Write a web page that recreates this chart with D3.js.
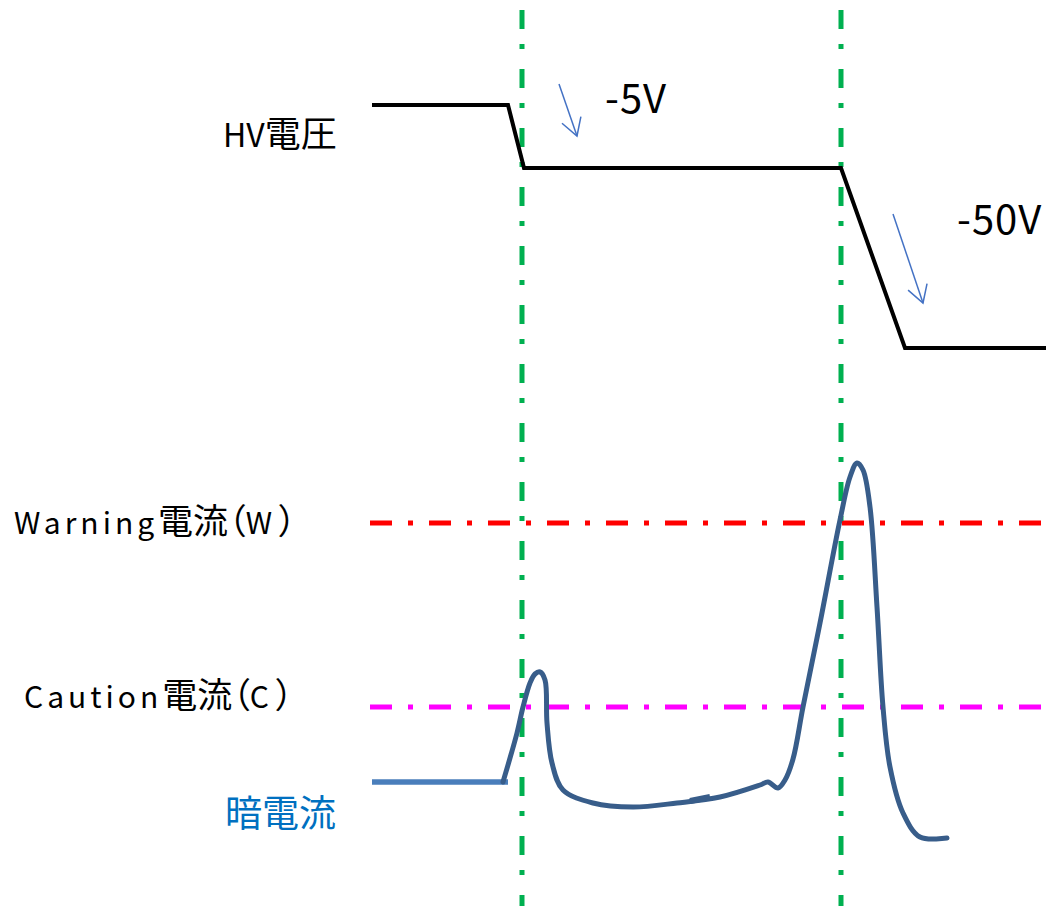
<!DOCTYPE html>
<html>
<head>
<meta charset="utf-8">
<script src="https://cdn.jsdelivr.net/npm/d3@7"></script>
<style>
    body { margin: 0; background: #ffffff; }
    svg { display: block; font-family: "Noto Sans CJK JP", "Noto Sans", sans-serif; }
</style>
</head>
<body>
<div id="chart"></div>
<script>
// HV電圧 (時間 ms, 電圧 V)
const hvTime = [0, 136, 152, 469, 533, 674];
const hvVolt = [0, 0, -5, -5, -50, -50];

// 暗電流 ベースライン
const baseTime = [0, 136];
const baseCurrent = [0, 0];

// 電流波形 (a.u.)
const pulseTime = [131, 145, 151, 158, 163, 168, 173, 175, 180, 191, 221, 261, 305, 348, 388, 396, 406, 413, 421, 431, 448, 468, 478, 485, 491, 498, 505, 511, 518, 531, 548, 575];
const pulseCurrent = [0, 1.96, 3.0, 3.96, 4.32, 4.4, 4.08, 2.36, 0.76, -0.32, -0.84, -1.0, -0.84, -0.6, -0.12, 0, -0.24, 0.08, 0.92, 3.0, 6.36, 10.48, 12.2, 12.76, 12.48, 11.0, 7.0, 3.0, 0.6, -1.24, -2.2, -2.24];

// 手書きの重なり部分
const overlapTime = [318, 338];
const overlapCurrent = [-0.76, -0.6];

// しきい値
const thresholdNames = [["Warning", "電流（", "W ", "）"], ["Caution", "電流（", "C ", "）"]];
const thresholdLevels = [10.36, 3.0];
const thresholdColors = ["#ff0000", "#ff00ff"];

// 電圧切替タイミング
const switchTimes = [150, 469];

// 電圧ステップ表示
const stepLabels = ["-5V", "-50V"];
const arrowTime = [[187, 205], [521, 551]];
const arrowVolt = [[1.67, -2.46], [-16.5, -38.75]];
const stepLabelTime = [233, 585];
const stepLabelVolt = [-0.6, -21.5];

const hvLabel = ["HV", "電圧"];
const darkLabel = ["暗電流"];

const width = 1046, height = 906;

const svg = d3.select("#chart").append("svg")
    .attr("width", width)
    .attr("height", height);

svg.append("rect").attr("width", width).attr("height", height).attr("fill", "#ffffff");

const x = d3.scaleLinear().domain([0, 674]).range([372, 1046]);
// 模式図なので電圧軸は区分線形
const yV = d3.scaleLinear().domain([0, -5, -50]).range([105, 168, 348]);
const yI = d3.scaleLinear().domain([0, 10]).range([782, 532]);

// 和文と欧文でサイズを変える
const isCJK = s => /[\u3000-\u9fff\uff00-\uffef]/.test(s);

function mixedLabel(parts, px, py, latinSize, cjkSize, latinSpacing, color) {
    const t = svg.append("text")
        .attr("x", px)
        .attr("y", py)
        .attr("fill", color);
    t.selectAll("tspan")
        .data(parts)
        .enter()
        .append("tspan")
        .attr("font-size", d => isCJK(d) ? cjkSize : latinSize)
        .attr("letter-spacing", d => isCJK(d) || d.length <= 2 ? 0 : latinSpacing)
        // 約物はプロポーショナル幅
        .style("font-feature-settings", d => isCJK(d) ? "'palt'" : null)
        .text(d => d.replace(/ /g, "\u00a0"));
    return t;
}

// しきい値ライン
svg.selectAll(".threshold")
    .data(thresholdLevels)
    .enter()
    .append("line")
    .attr("class", "threshold")
    .attr("x1", x(-2))
    .attr("x2", x(674))
    .attr("y1", d => yI(d))
    .attr("y2", d => yI(d))
    .attr("stroke", (d, i) => thresholdColors[i])
    .attr("stroke-width", 5)
    .attr("stroke-dasharray", "22 16 5 16");

// 切替タイミング (縦線)
svg.selectAll(".switch")
    .data(switchTimes)
    .enter()
    .append("line")
    .attr("class", "switch")
    .attr("x1", d => x(d))
    .attr("x2", d => x(d))
    .attr("y1", 10)
    .attr("y2", height)
    .attr("stroke", "#00b050")
    .attr("stroke-width", 5)
    .attr("stroke-dasharray", "19 15 5 20");

// HV電圧
svg.append("path")
    .attr("d", d3.line().x(d => x(d[0])).y(d => yV(d[1]))(d3.zip(hvTime, hvVolt)))
    .attr("fill", "none")
    .attr("stroke", "#000000")
    .attr("stroke-width", 4);

// 暗電流ベースライン
svg.append("path")
    .attr("d", d3.line().x(d => x(d[0])).y(d => yI(d[1]))(d3.zip(baseTime, baseCurrent)))
    .attr("fill", "none")
    .attr("stroke", "#4a7ebb")
    .attr("stroke-width", 5.5);

// 電流波形
const currentLine = d3.line()
    .x(d => x(d[0]))
    .y(d => yI(d[1]))
    .curve(d3.curveCatmullRom.alpha(0.5));

svg.append("path")
    .attr("d", currentLine(d3.zip(pulseTime, pulseCurrent)))
    .attr("fill", "none")
    .attr("stroke", "#385d8a")
    .attr("stroke-width", 5)
    .attr("stroke-linecap", "round")
    .attr("stroke-linejoin", "round");

svg.append("path")
    .attr("d", d3.line().x(d => x(d[0])).y(d => yI(d[1]))(d3.zip(overlapTime, overlapCurrent)))
    .attr("fill", "none")
    .attr("stroke", "#385d8a")
    .attr("stroke-width", 6);

// 矢印
svg.append("defs").append("marker")
    .attr("id", "arrow")
    .attr("viewBox", "-20 -12 22 24")
    .attr("refX", 0)
    .attr("refY", 0)
    .attr("markerUnits", "userSpaceOnUse")
    .attr("markerWidth", 22)
    .attr("markerHeight", 24)
    .attr("orient", "auto")
    .append("path")
    .attr("d", "M-17,-10L0,0L-17,10")
    .attr("fill", "none")
    .attr("stroke", "#4472c4")
    .attr("stroke-width", 1.5);

svg.selectAll(".arrow")
    .data(arrowTime)
    .enter()
    .append("line")
    .attr("class", "arrow")
    .attr("x1", d => x(d[0]))
    .attr("x2", d => x(d[1]))
    .attr("y1", (d, i) => yV(arrowVolt[i][0]))
    .attr("y2", (d, i) => yV(arrowVolt[i][1]))
    .attr("stroke", "#4472c4")
    .attr("stroke-width", 1.5)
    .attr("marker-end", "url(#arrow)");

svg.selectAll(".step-label")
    .data(stepLabels)
    .enter()
    .append("text")
    .attr("class", "step-label")
    .attr("x", (d, i) => x(stepLabelTime[i]))
    .attr("y", (d, i) => yV(stepLabelVolt[i]))
    .attr("font-size", 40)
    .attr("letter-spacing", 1)
    .attr("fill", "#000000")
    .text(d => d);

// ラベル
mixedLabel(hvLabel, 223, yV(0) + 42, 32, 36, 2, "#000000");

thresholdNames.forEach((parts, i) => {
    mixedLabel(parts, i === 0 ? 14 : 24, yI(thresholdLevels[i]) + (i === 0 ? 11 : 1), 30, 35, 4, "#000000");
});

mixedLabel(darkLabel, 225, yI(0) + 45, 32, 37, 0, "#0070c0");
</script>
</body>
</html>
